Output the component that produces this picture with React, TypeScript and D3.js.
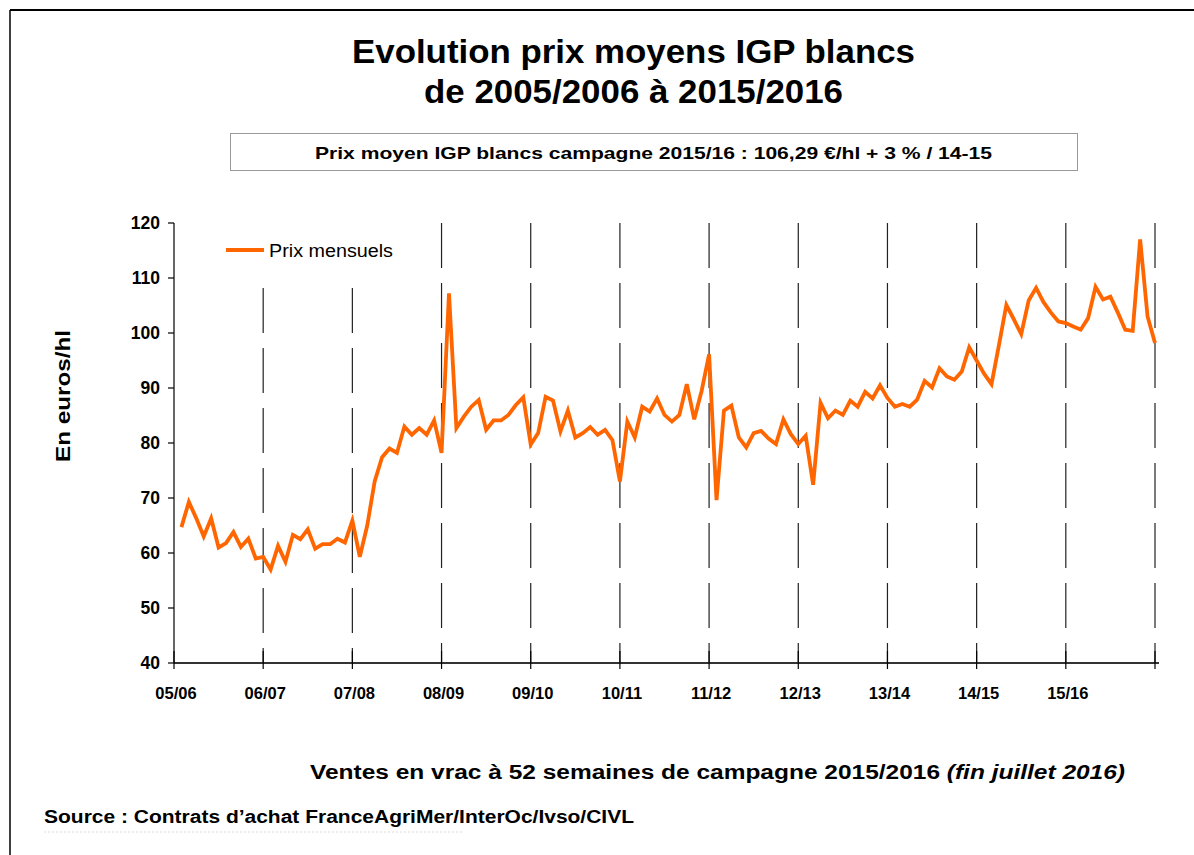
import React from "react";
import * as d3 from "d3";

// Campaign labels (one per 12 monthly points)
const campaigns = ["05/06", "06/07", "07/08", "08/09", "09/10", "10/11", "11/12", "12/13", "13/14", "14/15", "15/16"];

// Monthly average prices (€/hl), by campaign
const p0506 = [64.7, 69.3, 66.3, 63.0, 66.3, 61.0, 61.8, 63.8, 61.1, 62.6, 59.0, 59.3];
const p0607 = [57.0, 61.3, 58.4, 63.3, 62.5, 64.3, 60.8, 61.6, 61.6, 62.6, 61.9, 65.9];
const p0708 = [59.3, 65.0, 73.0, 77.4, 79.0, 78.2, 83.0, 81.5, 82.7, 81.5, 84.1, 78.2];
const p0809 = [107.2, 82.7, 84.8, 86.6, 87.8, 82.4, 84.1, 84.1, 85.1, 86.9, 88.3, 79.7];
const p0910 = [81.8, 88.4, 87.7, 82.1, 85.9, 81.0, 81.8, 82.9, 81.5, 82.4, 80.5, 73.0];
const p1011 = [83.9, 81.0, 86.6, 85.7, 88.1, 85.1, 83.9, 85.1, 90.7, 84.3, 89.5, 96.1];
const p1112 = [69.6, 85.9, 86.8, 81.0, 79.2, 81.8, 82.2, 80.8, 79.8, 84.3, 81.6, 79.8];
const p1213 = [81.3, 72.4, 87.3, 84.5, 85.9, 85.1, 87.7, 86.6, 89.3, 88.1, 90.5, 88.2];
const p1314 = [86.6, 87.1, 86.6, 87.9, 91.3, 90.1, 93.6, 92.1, 91.5, 93.0, 97.4, 95.0];
const p1415 = [92.6, 90.7, 97.8, 105.1, 102.5, 99.8, 105.9, 108.2, 105.6, 103.7, 102.1, 101.8];
const p1516 = [101.2, 100.6, 102.7, 108.4, 106.1, 106.6, 103.7, 100.6, 100.4, 117.0, 103.0, 98.2];

const prices = [...p0506, ...p0607, ...p0708, ...p0809, ...p0910, ...p1011, ...p1112, ...p1213, ...p1314, ...p1415, ...p1516];

const yTicks = [40, 50, 60, 70, 80, 90, 100, 110, 120];

const FONT = "'Liberation Sans', Arial, Helvetica, sans-serif";
const ORANGE = "#FF6600";

export default function App() {
  const left = 174;
  const right = 1155;
  const top = 223;
  const bottom = 663;
  const n = prices.length;

  const x = d3.scaleLinear().domain([-1, n - 1]).range([left, right]);
  const y = d3.scaleLinear().domain([40, 120]).range([bottom, top]);

  const line = d3
    .line<number>()
    .x((_, i) => x(i))
    .y((d) => y(d));

  // boundaries between campaigns (index of last month of each campaign)
  const boundaries = campaigns.map((_, k) => 12 * (k + 1) - 1);
  const labelPos = campaigns.map((_, k) => 12 * k - 1);
  const tickPos = [...labelPos, n - 1];
  const legendBottom = 288;

  return (
    <svg
      width={1194}
      height={855}
      style={{ position: "absolute", left: 0, top: 0, background: "#fff" }}
      fontFamily={FONT}
    >
      <rect x={0} y={0} width={1194} height={855} fill="#fff" />
      {/* frame */}
      <line x1={10} y1={10} x2={1194} y2={10} stroke="#000" strokeWidth={2} />
      <line x1={10} y1={10} x2={10} y2={855} stroke="#000" strokeWidth={1.5} />

      {/* title */}
      <text x={352} y={63} fontSize={33} fontWeight="bold" fill="#000" textLength={563} lengthAdjust="spacingAndGlyphs">
        Evolution prix moyens IGP blancs
      </text>
      <text x={424} y={103} fontSize={33} fontWeight="bold" fill="#000" textLength={419} lengthAdjust="spacingAndGlyphs">
        de 2005/2006 à 2015/2016
      </text>

      {/* info box */}
      <rect x={230.5} y={133.5} width={847} height={37} fill="#fff" stroke="#999" strokeWidth={1} />
      <text x={315} y={159} fontSize={17} fontWeight="bold" fill="#000" textLength={677} lengthAdjust="spacingAndGlyphs">
        Prix moyen IGP blancs campagne 2015/16 : 106,29 €/hl + 3 % / 14-15
      </text>

      {/* dashed campaign separators */}
      {boundaries.map((b, k) => (
        <line
          key={"d" + k}
          x1={x(b)}
          x2={x(b)}
          y1={k < 2 ? legendBottom : top}
          y2={bottom}
          stroke="#222"
          strokeWidth={1.2}
          strokeDasharray="45,15"
        />
      ))}

      {/* y axis */}
      <line x1={left} x2={left} y1={top} y2={bottom} stroke="#000" strokeWidth={1.2} />
      {yTicks.map((t) => (
        <g key={"y" + t}>
          <line x1={left - 6} x2={left} y1={y(t)} y2={y(t)} stroke="#000" strokeWidth={1.2} />
          <text x={left - 14} y={y(t) + 6} textAnchor="end" fontSize={17.5} fontWeight="bold" fill="#000">
            {t}
          </text>
        </g>
      ))}
      <text
        transform={`translate(70, 462) rotate(-90)`}
        fontSize={21}
        fontWeight="bold"
        fill="#000"
        textLength={132}
        lengthAdjust="spacingAndGlyphs"
      >
        En euros/hl
      </text>

      {/* x axis */}
      <line x1={left} x2={right + 4} y1={bottom} y2={bottom} stroke="#333" strokeWidth={2} />
      {tickPos.map((p, k) => (
        <line key={"t" + k} x1={x(p)} x2={x(p)} y1={bottom - 12} y2={bottom + 6} stroke="#000" strokeWidth={1.2} />
      ))}
      {campaigns.map((c, k) => (
        <text key={"l" + k} x={x(labelPos[k]) + 2} y={699} textAnchor="middle" fontSize={16.5} fontWeight="bold" fill="#000">
          {c}
        </text>
      ))}

      {/* data line */}
      <path d={line(prices) || ""} fill="none" stroke={ORANGE} strokeWidth={3.8} strokeLinejoin="miter" />

      {/* legend */}
      <line x1={226} x2={264} y1={250} y2={250} stroke={ORANGE} strokeWidth={3.8} />
      <text x={269} y={257} fontSize={18} fill="#000" textLength={124} lengthAdjust="spacingAndGlyphs">
        Prix mensuels
      </text>

      {/* bottom notes */}
      <text x={310} y={779} fontSize={20} fontWeight="bold" fill="#000" textLength={815} lengthAdjust="spacingAndGlyphs">
        Ventes en vrac à 52 semaines de campagne 2015/2016{" "}
        <tspan fontStyle="italic">(fin juillet 2016)</tspan>
      </text>
      <text x={44} y={823} fontSize={18} fontWeight="bold" fill="#000" textLength={590} lengthAdjust="spacingAndGlyphs">
        Source : Contrats d’achat FranceAgriMer/InterOc/Ivso/CIVL
      </text>
      <line x1={44} x2={462} y1={832} y2={832} stroke="#ddd" strokeWidth={1} strokeDasharray="2,2" />
    </svg>
  );
}
